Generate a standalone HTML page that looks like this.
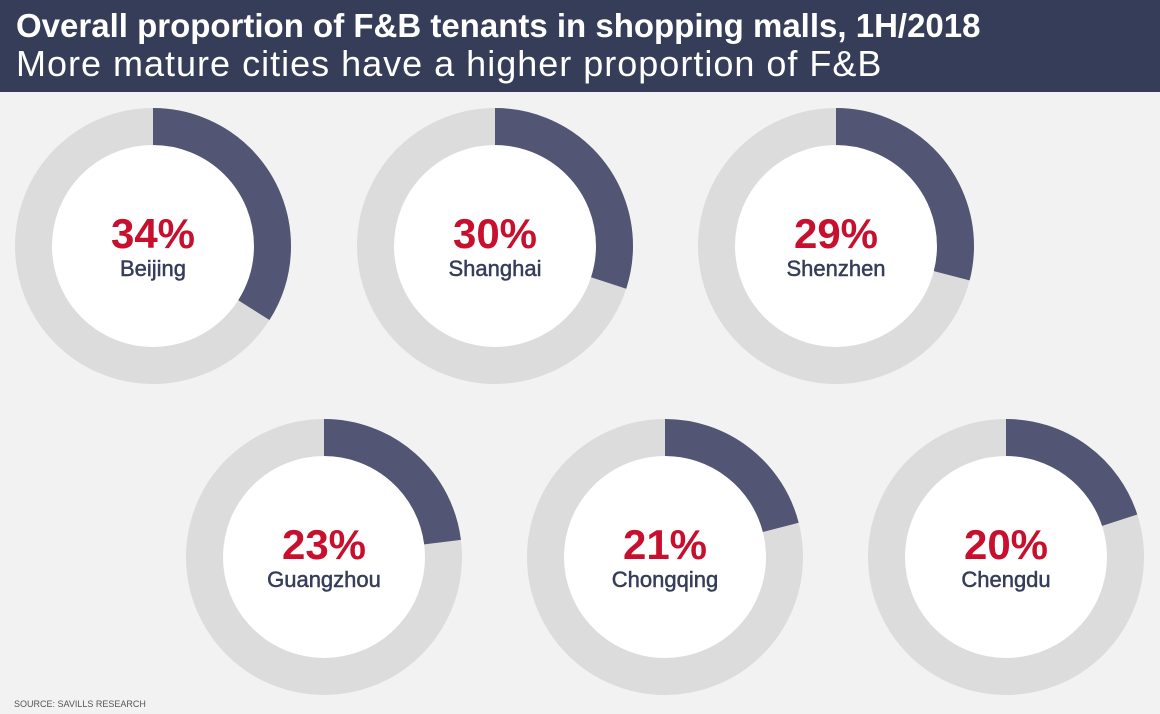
<!DOCTYPE html>
<html><head><style>
body{margin:0;width:1160px;height:714px;background:#f2f2f2;font-family:"Liberation Sans",sans-serif;overflow:hidden;position:relative}
.hd{position:absolute;left:0;top:0;width:1160px;height:92px;background:#363d58}
.t1{position:absolute;left:16px;top:7px;color:#fff;font-weight:bold;font-size:33px;white-space:nowrap}
.t2{position:absolute;left:16px;top:43px;color:#fff;font-size:36px;white-space:nowrap;letter-spacing:1px}
.src{position:absolute;left:14px;top:699px;font-size:9px;color:#555}
.c{stroke:#363d58;stroke-width:0.5px}
</style></head><body>
<div class="hd"><div class="t1">Overall proportion of F&amp;B tenants in shopping malls, 1H/2018</div><div class="t2">More mature cities have a higher proportion of F&amp;B</div></div>
<svg width="1160" height="714" style="position:absolute;left:0;top:0" font-family="Liberation Sans, sans-serif" text-anchor="middle">
<g>
<circle cx="153" cy="246" r="119.5" fill="#fff" stroke="#dcdcdc" stroke-width="37"/>
<circle cx="153" cy="246" r="119.5" fill="none" stroke="#525573" stroke-width="37" stroke-dasharray="255.29 800" transform="rotate(-90 153 246)"/>
<text x="153" y="248" font-size="42" font-weight="bold" fill="#c8102e">34%</text>
<text class="c" x="153" y="276" font-size="22" fill="#363d58">Beijing</text>
</g>
<g>
<circle cx="495" cy="246" r="119.5" fill="#fff" stroke="#dcdcdc" stroke-width="37"/>
<circle cx="495" cy="246" r="119.5" fill="none" stroke="#525573" stroke-width="37" stroke-dasharray="225.25 800" transform="rotate(-90 495 246)"/>
<text x="495" y="248" font-size="42" font-weight="bold" fill="#c8102e">30%</text>
<text class="c" x="495" y="276" font-size="22" fill="#363d58">Shanghai</text>
</g>
<g>
<circle cx="836" cy="246" r="119.5" fill="#fff" stroke="#dcdcdc" stroke-width="37"/>
<circle cx="836" cy="246" r="119.5" fill="none" stroke="#525573" stroke-width="37" stroke-dasharray="217.74 800" transform="rotate(-90 836 246)"/>
<text x="836" y="248" font-size="42" font-weight="bold" fill="#c8102e">29%</text>
<text class="c" x="836" y="276" font-size="22" fill="#363d58">Shenzhen</text>
</g>
<g>
<circle cx="324" cy="557" r="119.5" fill="#fff" stroke="#dcdcdc" stroke-width="37"/>
<circle cx="324" cy="557" r="119.5" fill="none" stroke="#525573" stroke-width="37" stroke-dasharray="172.69 800" transform="rotate(-90 324 557)"/>
<text x="324" y="559" font-size="42" font-weight="bold" fill="#c8102e">23%</text>
<text class="c" x="324" y="587" font-size="22" fill="#363d58">Guangzhou</text>
</g>
<g>
<circle cx="665" cy="557" r="119.5" fill="#fff" stroke="#dcdcdc" stroke-width="37"/>
<circle cx="665" cy="557" r="119.5" fill="none" stroke="#525573" stroke-width="37" stroke-dasharray="157.68 800" transform="rotate(-90 665 557)"/>
<text x="665" y="559" font-size="42" font-weight="bold" fill="#c8102e">21%</text>
<text class="c" x="665" y="587" font-size="22" fill="#363d58">Chongqing</text>
</g>
<g>
<circle cx="1006" cy="557" r="119.5" fill="#fff" stroke="#dcdcdc" stroke-width="37"/>
<circle cx="1006" cy="557" r="119.5" fill="none" stroke="#525573" stroke-width="37" stroke-dasharray="150.17 800" transform="rotate(-90 1006 557)"/>
<text x="1006" y="559" font-size="42" font-weight="bold" fill="#c8102e">20%</text>
<text class="c" x="1006" y="587" font-size="22" fill="#363d58">Chengdu</text>
</g>
</svg>
<div class="src">SOURCE: SAVILLS RESEARCH</div>
</body></html>
